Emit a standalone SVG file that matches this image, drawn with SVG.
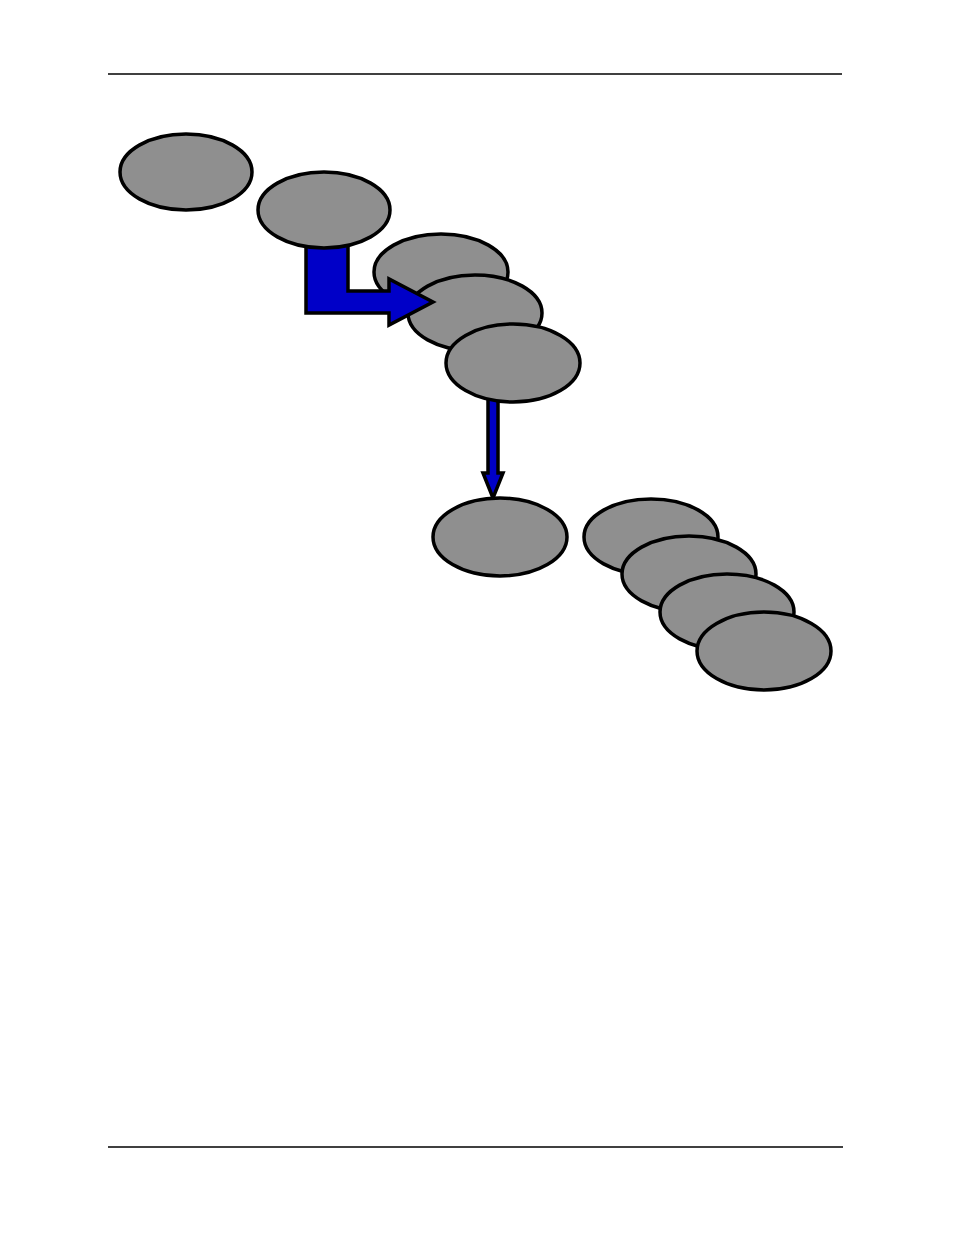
<svg xmlns="http://www.w3.org/2000/svg" width="954" height="1235" viewBox="0 0 954 1235">
<style>
.n{fill:#8f8f8f;stroke:#000;stroke-width:3.5}
.a{fill:#0000c8;stroke:#000;stroke-width:3.5;stroke-linejoin:miter}
.rule{stroke:#000;stroke-width:1.5}
</style>
<rect width="954" height="1235" fill="#fff"/>
<line class="rule" x1="108" y1="74" x2="842" y2="74"/>
<line class="rule" x1="108" y1="1147" x2="843" y2="1147"/>
<g id="n1"><ellipse class="n" cx="186" cy="172" rx="66" ry="38"/></g>
<g id="n3"><ellipse class="n" cx="441" cy="272" rx="67" ry="38"/></g>
<g id="n4"><ellipse class="n" cx="475" cy="313" rx="67" ry="38"/></g>
<g id="connectors">
<polygon class="a" points="306,240 348,240 348,291 389,291 389,279 433,302 389,325 389,313 306,313"/>
<polygon class="a" points="488,395 498,395 498,473 503,473 493,498 483,473 488,473"/>
</g>
<g id="n2"><ellipse class="n" cx="324" cy="210" rx="66" ry="38"/></g>
<g id="n5"><ellipse class="n" cx="513" cy="363" rx="67" ry="39"/></g>
<g id="n6"><ellipse class="n" cx="500" cy="537" rx="67" ry="39"/></g>
<g id="n7"><ellipse class="n" cx="651" cy="537" rx="67" ry="38"/></g>
<g id="n8"><ellipse class="n" cx="689" cy="574" rx="67" ry="38"/></g>
<g id="n9"><ellipse class="n" cx="727" cy="612" rx="67" ry="38"/></g>
<g id="n10"><ellipse class="n" cx="764" cy="651" rx="67" ry="39"/></g>
</svg>
